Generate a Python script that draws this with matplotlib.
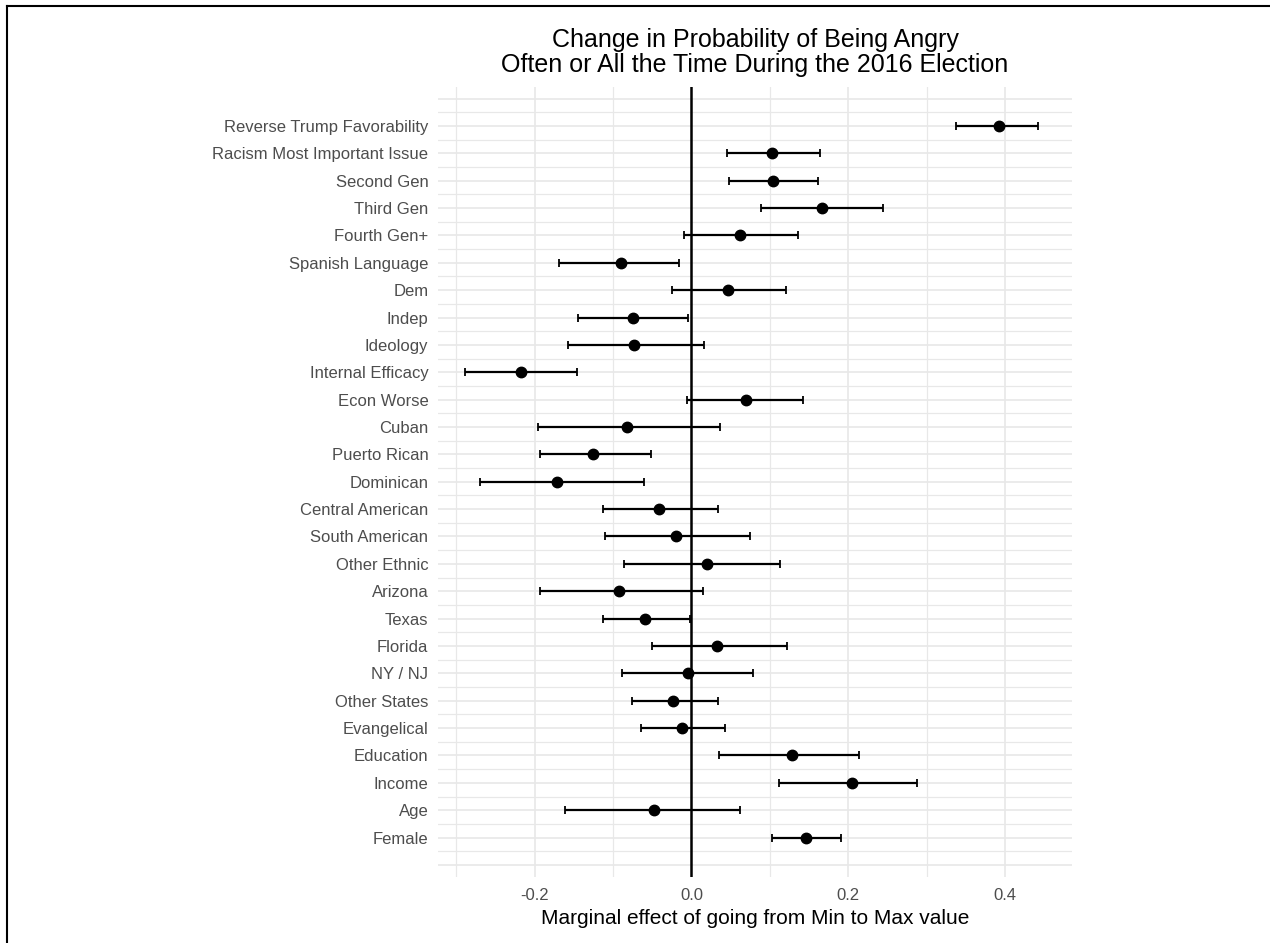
import numpy as np
import matplotlib
matplotlib.use("Agg")
import matplotlib.pyplot as plt
from matplotlib.lines import Line2D

plt.rcParams['font.family'] = ['Liberation Sans', 'DejaVu Sans']

# variables, top to bottom
labels = [
    "Reverse Trump Favorability", "Racism Most Important Issue", "Second Gen",
    "Third Gen", "Fourth Gen+", "Spanish Language", "Dem", "Indep", "Ideology",
    "Internal Efficacy", "Econ Worse", "Cuban", "Puerto Rican", "Dominican",
    "Central American", "South American", "Other Ethnic", "Arizona", "Texas",
    "Florida", "NY / NJ", "Other States", "Evangelical", "Education", "Income",
    "Age", "Female",
]
estimate = [0.392, 0.103, 0.104, 0.167, 0.062, -0.090, 0.046, -0.075, -0.073,
            -0.217, 0.069, -0.082, -0.125, -0.172, -0.042, -0.020, 0.020,
            -0.092, -0.059, 0.033, -0.005, -0.023, -0.012, 0.128, 0.205,
            -0.048, 0.146]
lower = [0.337, 0.045, 0.048, 0.089, -0.010, -0.169, -0.025, -0.144, -0.157,
         -0.288, -0.006, -0.196, -0.193, -0.269, -0.113, -0.110, -0.086,
         -0.193, -0.113, -0.050, -0.088, -0.076, -0.064, 0.035, 0.111,
         -0.161, 0.103]
upper = [0.442, 0.164, 0.161, 0.244, 0.136, -0.016, 0.121, -0.005, 0.016,
         -0.146, 0.142, 0.037, -0.052, -0.061, 0.034, 0.074, 0.113, 0.015,
         -0.002, 0.122, 0.078, 0.034, 0.043, 0.214, 0.288, 0.062, 0.190]

estimate = np.array(estimate)
lower = np.array(lower)
upper = np.array(upper)
ypos = np.arange(len(labels), 0, -1)

fig = plt.figure(figsize=(12.7, 9.43), dpi=100)
ax = fig.add_axes([0.3449, 0.070, 0.4992, 0.8377])

# ggplot-like minimal grid
grid_col = "#e8e8e8"
for y in np.arange(0, len(labels) + 1.5, 0.5):
    ax.axhline(y, color=grid_col, lw=1.2 if y % 1 == 0 else 0.9, zorder=0)
for x in [-0.3, -0.2, -0.1, 0.1, 0.2, 0.3, 0.4]:
    ax.axvline(x, color=grid_col, lw=1.2 if round(x * 10) % 2 == 0 else 0.9, zorder=0)

ax.axvline(0, color="black", lw=1.8, zorder=1)

ax.errorbar(estimate, ypos, xerr=[estimate - lower, upper - estimate],
            fmt="o", color="black", ms=7.5, elinewidth=1.6, capsize=3,
            capthick=1.3, zorder=3)

ax.set_xlim(-0.323, 0.485)
ax.set_ylim(-0.44, 28.42)
ax.set_xticks([-0.2, 0.0, 0.2, 0.4])
ax.set_xticklabels(["-0.2", "0.0", "0.2", "0.4"])
ax.set_yticks(ypos)
ax.set_yticklabels(labels)
ax.tick_params(axis="both", length=0, labelsize=12, colors="#4d4d4d", pad=7)
ax.tick_params(axis="x", pad=8)
for s in ax.spines.values():
    s.set_visible(False)

ax.set_xlabel("Marginal effect of going from Min to Max value", fontsize=15, labelpad=4)
ax.set_title("Change in Probability of Being Angry\nOften or All the Time During the 2016 Election",
             fontsize=18, pad=11, linespacing=1.02)

# partial frame of the cropped figure
fig.add_artist(Line2D([7 / 1270, 7 / 1270], [0, 1 - 6 / 943], color="black", lw=1.5,
                      transform=fig.transFigure))
fig.add_artist(Line2D([7 / 1270, 1], [1 - 6 / 943, 1 - 6 / 943], color="black", lw=1.5,
                      transform=fig.transFigure))

fig.savefig("out.png", dpi=100)
